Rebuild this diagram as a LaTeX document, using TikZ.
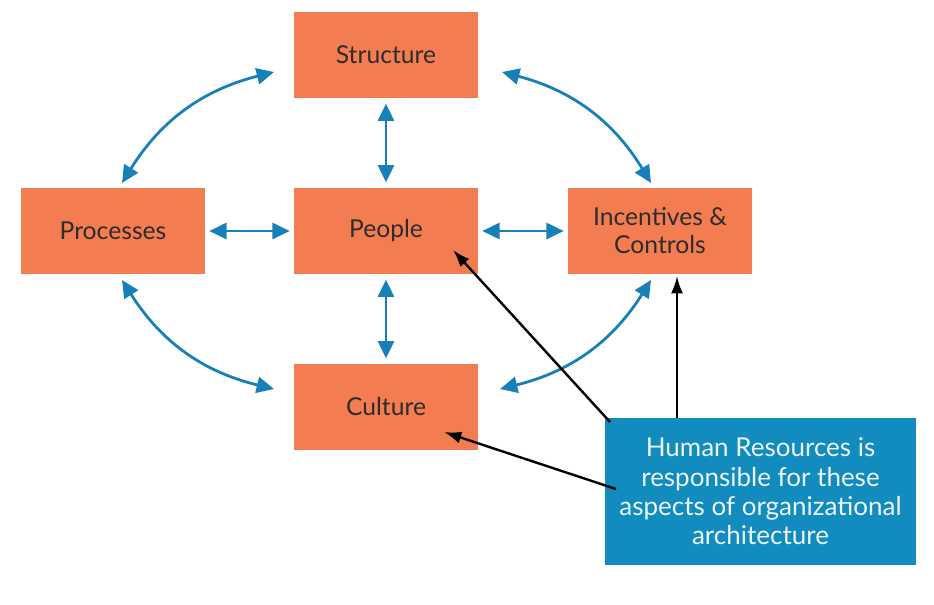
\documentclass[tikz,border=0pt]{standalone}
\usepackage{fontspec}
\setmainfont{Lato}
\usepackage{tikz}
\usetikzlibrary{arrows.meta}
\definecolor{boxorange}{RGB}{243,125,80}
\definecolor{arrowblue}{RGB}{22,128,184}
\definecolor{hrblue}{RGB}{18,139,191}
\definecolor{labelgray}{RGB}{45,45,45}

\begin{document}
\begin{tikzpicture}[x=0.75pt,y=-0.75pt,
    part/.style={fill=boxorange, minimum width=138pt, minimum height=64.5pt,
      align=center, text=labelgray, font=\fontsize{18.5}{21}\selectfont},
    link/.style={arrowblue, line width=2.1pt,
      {Triangle[length=13pt,width=12pt]}-{Triangle[length=13pt,width=12pt]}},
    points/.style={black, line width=1.8pt, -{Latex[length=13pt,width=9pt]}}]
      \useasboundingbox (0,0) rectangle (934,604);

      % the five parts
      \node (structure) at (386,55)  [part] {Structure};
      \node (processes) at (113,231) [part] {Processes};
      \node (people)    at (386,231) [part] {People};
      \node (incent)    at (660,231) [part] {Incentives \&\\Controls};
      \node (culture)   at (386,407) [part] {Culture};

      % straight links
      \draw[link] ([yshift=-4pt]structure.south) to ([yshift=4pt]people.north);
      \draw[link] ([yshift=-4pt]people.south) to ([yshift=4pt]culture.north);
      \draw[link] ([xshift=3pt]processes.east) to ([xshift=-3pt]people.west);
      \draw[link] ([xshift=3pt]people.east) to ([xshift=-3pt]incent.west);

      % curved links
      \coordinate (s1) at (274,72);
      \coordinate (s2) at (502,72);
      \coordinate (p1) at (122,183);
      \coordinate (p2) at (122,280);
      \coordinate (i1) at (651,183);
      \coordinate (i2) at (651,280);
      \coordinate (c1) at (274,389);
      \coordinate (c2) at (500,389);
      \draw[link] (s1) to[bend right=22] (p1);
      \draw[link] (s2) to[bend left=22] (i1);
      \draw[link] (p2) to[bend right=22] (c1);
      \draw[link] (i2) to[bend left=22] (c2);

      % HR note
      \node (hr) at (760.5,491.5) [fill=hrblue, minimum width=233.25pt,
        minimum height=110.25pt, align=center, text=white!92!hrblue,
        font=\fontsize{19.5}{22}\selectfont]
        {Human Resources is\\responsible for these\\aspects of organizational\\architecture};
      \coordinate (h1) at (610,422);
      \coordinate (h2) at (677,418);
      \coordinate (h3) at (616,489);
      \coordinate (t1) at (453,250);
      \coordinate (t2) at (677,276);
      \coordinate (t3) at (444,432);
      \draw[points] (h1) to (t1);
      \draw[points] (h2) to (t2);
      \draw[points] (h3) to (t3);
    \end{tikzpicture}
\end{document}
